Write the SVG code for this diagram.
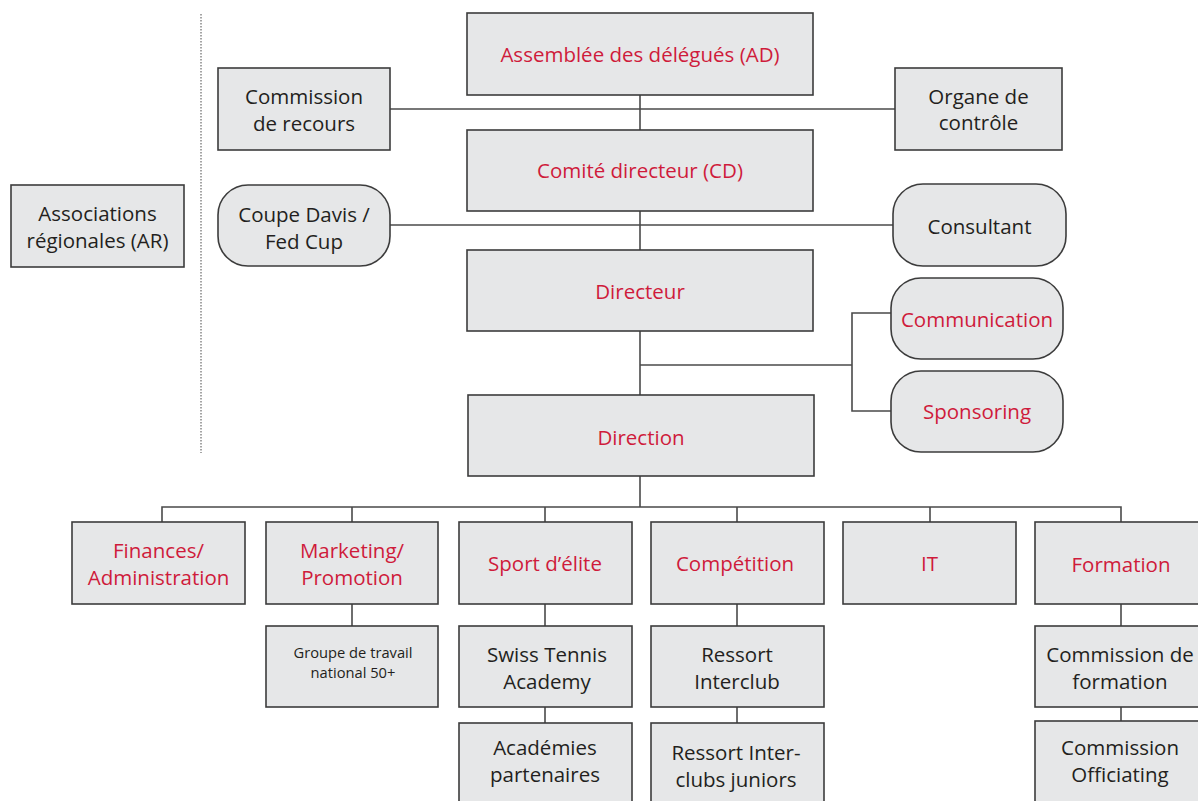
<svg xmlns="http://www.w3.org/2000/svg" width="1198" height="801" viewBox="0 0 1198 801">
<style>
.box{fill:#e6e7e8;stroke:#3c3c3c;stroke-width:1.6}
.ln{fill:none;stroke:#4a4a4a;stroke-width:1.6}
text{font-family:"Open Sans","Noto Sans","Liberation Sans",sans-serif;font-size:20.5px;text-anchor:middle;fill:#231f20}
.red{fill:#cf1b3b}
.sm{font-size:14.7px}
</style>
<rect width="1198" height="801" fill="#ffffff"/>
<g id="connectors">
<line class="ln" x1="201" y1="14" x2="201" y2="453" stroke-dasharray="1.5,1.5" style="stroke-width:1"/>
<line class="ln" x1="640" y1="95" x2="640" y2="130"/>
<line class="ln" x1="390" y1="109" x2="895" y2="109"/>
<line class="ln" x1="640" y1="211" x2="640" y2="250"/>
<line class="ln" x1="390" y1="225" x2="893" y2="225"/>
<line class="ln" x1="640" y1="331" x2="640" y2="395"/>
<polyline class="ln" points="640,365 852,365"/>
<polyline class="ln" points="891,313 852,313 852,411 891,411"/>
<line class="ln" x1="640" y1="476" x2="640" y2="507"/>
<polyline class="ln" points="162,522 162,507 1121,507 1121,522"/>
<line class="ln" x1="352" y1="507" x2="352" y2="522"/>
<line class="ln" x1="545" y1="507" x2="545" y2="522"/>
<line class="ln" x1="737" y1="507" x2="737" y2="522"/>
<line class="ln" x1="930" y1="507" x2="930" y2="522"/>
<line class="ln" x1="352" y1="604" x2="352" y2="626"/>
<line class="ln" x1="545" y1="604" x2="545" y2="626"/>
<line class="ln" x1="737" y1="604" x2="737" y2="626"/>
<line class="ln" x1="1121" y1="604" x2="1121" y2="626"/>
<line class="ln" x1="545" y1="707" x2="545" y2="723"/>
<line class="ln" x1="737" y1="707" x2="737" y2="723"/>
<line class="ln" x1="1121" y1="707" x2="1121" y2="721"/>
</g>
<g id="ar"><rect class="box" x="11" y="185" width="173" height="82"/><text x="97.5" y="221">Associations</text><text x="97.5" y="248">régionales (AR)</text></g>
<g id="ad"><rect class="box" x="467" y="13" width="346" height="82"/><text class="red" x="640" y="62">Assemblée des délégués (AD)</text></g>
<g id="recours"><rect class="box" x="218" y="68" width="172" height="82"/><text x="304" y="104">Commission</text><text x="304" y="131">de recours</text></g>
<g id="organe"><rect class="box" x="895" y="68" width="167" height="82"/><text x="978.5" y="104">Organe de</text><text x="978.5" y="130">contrôle</text></g>
<g id="cd"><rect class="box" x="467" y="130" width="346" height="81"/><text class="red" x="640" y="178">Comité directeur (CD)</text></g>
<g id="davis"><rect class="box" x="218" y="185" width="172" height="81" rx="30"/><text x="304" y="222">Coupe Davis /</text><text x="304" y="249">Fed Cup</text></g>
<g id="consultant"><rect class="box" x="893" y="184" width="173" height="82" rx="30"/><text x="979.5" y="234">Consultant</text></g>
<g id="directeur"><rect class="box" x="467" y="250" width="346" height="81"/><text class="red" x="640" y="299">Directeur</text></g>
<g id="communication"><rect class="box" x="891" y="278" width="172" height="81" rx="30"/><text class="red" x="977" y="327">Communication</text></g>
<g id="sponsoring"><rect class="box" x="891" y="371" width="172" height="81" rx="30"/><text class="red" x="977" y="419">Sponsoring</text></g>
<g id="direction"><rect class="box" x="468" y="395" width="346" height="81"/><text class="red" x="641" y="445">Direction</text></g>
<g id="finances"><rect class="box" x="72" y="522" width="173" height="82"/><text class="red" x="158.5" y="558">Finances/</text><text class="red" x="158.5" y="585">Administration</text></g>
<g id="marketing"><rect class="box" x="266" y="522" width="172" height="82"/><text class="red" x="352" y="558">Marketing/</text><text class="red" x="352" y="585">Promotion</text></g>
<g id="sport"><rect class="box" x="459" y="522" width="173" height="82"/><text class="red" x="545" y="571">Sport d’élite</text></g>
<g id="competition"><rect class="box" x="651" y="522" width="173" height="82"/><text class="red" x="735" y="571">Compétition</text></g>
<g id="it"><rect class="box" x="843" y="522" width="173" height="82"/><text class="red" x="929.5" y="571">IT</text></g>
<g id="formation"><rect class="box" x="1035" y="522" width="175" height="82"/><text class="red" x="1121" y="572">Formation</text></g>
<g id="groupe"><rect class="box" x="266" y="626" width="172" height="81"/><text class="sm" x="353" y="658">Groupe de travail</text><text class="sm" x="353" y="678">national 50+</text></g>
<g id="sta"><rect class="box" x="459" y="626" width="173" height="81"/><text x="547" y="662">Swiss Tennis</text><text x="547" y="689">Academy</text></g>
<g id="interclub"><rect class="box" x="651" y="626" width="173" height="81"/><text x="737" y="662">Ressort</text><text x="737" y="689">Interclub</text></g>
<g id="commformation"><rect class="box" x="1035" y="626" width="175" height="81"/><text x="1120" y="662">Commission de</text><text x="1120" y="689">formation</text></g>
<g id="academies"><rect class="box" x="459" y="723" width="173" height="90"/><text x="545" y="755">Académies</text><text x="545" y="782">partenaires</text></g>
<g id="juniors"><rect class="box" x="651" y="723" width="173" height="90"/><text x="736" y="760">Ressort Inter-</text><text x="736" y="787">clubs juniors</text></g>
<g id="officiating"><rect class="box" x="1035" y="721" width="175" height="92"/><text x="1120" y="755">Commission</text><text x="1120" y="782">Officiating</text></g>
</svg>
